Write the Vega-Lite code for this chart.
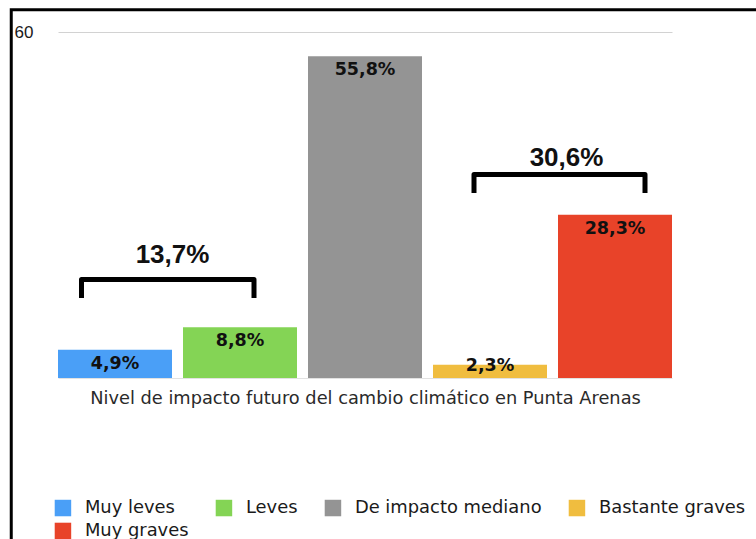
{
  "$schema": "https://vega.github.io/schema/vega-lite/v6.json",
  "autosize": {"type": "none"},
  "width": 614,
  "height": 346,
  "padding": {"left": 58, "top": 32, "right": 84, "bottom": 161},
  "background": "white",
  "config": {
    "view": {"stroke": null},
    "font": "DejaVu Sans",
    "legend": {
      "orient": "none",
      "direction": "horizontal",
      "legendX": -4,
      "legendY": 467,
      "columns": 4,
      "columnPadding": 26,
      "rowPadding": 4,
      "labelFontSize": 17.9,
      "labelFont": "DejaVu Sans",
      "labelColor": "#1a1a1a",
      "labelOffset": 13,
      "labelLimit": 400,
      "symbolSize": 272,
      "symbolType": "square",
      "symbolStrokeWidth": 0,
      "symbolOpacity": 1,
      "title": null
    }
  },
  "datasets": {
    "bars": [
      {"cat": "Muy leves", "value": 4.9, "label": "4,9%"},
      {"cat": "Leves", "value": 8.8, "label": "8,8%"},
      {"cat": "De impacto mediano", "value": 55.8, "label": "55,8%"},
      {"cat": "Bastante graves", "value": 2.3, "label": "2,3%"},
      {"cat": "Muy graves", "value": 28.3, "label": "28,3%"}
    ],
    "brackets": [
      {"group": "a", "ord": 1, "bx": 0.188, "by": 13.87},
      {"group": "a", "ord": 2, "bx": 0.188, "by": 17.08},
      {"group": "a", "ord": 3, "bx": 1.568, "by": 17.08},
      {"group": "a", "ord": 4, "bx": 1.568, "by": 13.87},
      {"group": "b", "ord": 1, "bx": 3.328, "by": 32.08},
      {"group": "b", "ord": 2, "bx": 3.328, "by": 35.29},
      {"group": "b", "ord": 3, "bx": 4.696, "by": 35.29},
      {"group": "b", "ord": 4, "bx": 4.696, "by": 32.08}
    ],
    "bracketLabels": [
      {"bx": 0.916, "by": 21.4, "label": "13,7%"},
      {"bx": 4.068, "by": 38.2, "label": "30,6%"}
    ],
    "frame": [
      {"fx": -0.374, "fx2": 12, "fy": 63.86, "fy2": -40}
    ]
  },
  "layer": [
    {
      "data": {"name": "bars"},
      "encoding": {
        "x": {
          "field": "cat",
          "type": "nominal",
          "sort": ["Muy leves", "Leves", "De impacto mediano", "Bastante graves", "Muy graves"],
          "scale": {"paddingInner": 0.088, "paddingOuter": 0},
          "axis": {
            "title": "Nivel de impacto futuro del cambio climático en Punta Arenas",
            "titleFont": "DejaVu Sans",
            "titleFontSize": 17.8,
            "titleFontWeight": "normal",
            "titleColor": "#2a2a2a",
            "titlePadding": 11,
            "labels": false,
            "ticks": false,
            "domain": true,
            "domainColor": "#e2e2e2",
            "domainWidth": 1
          }
        },
        "y": {
          "field": "value",
          "type": "quantitative",
          "scale": {"domain": [0, 60], "nice": false, "zero": true},
          "axis": {
            "title": null,
            "values": [60],
            "ticks": false,
            "domain": false,
            "grid": true,
            "gridColor": "#d2d2d2",
            "gridWidth": 1,
            "labelFont": "Liberation Sans",
            "labelFontSize": 17,
            "labelColor": "#1a1a1a",
            "labelPadding": 25
          }
        }
      },
      "layer": [
        {
          "mark": {"type": "bar"},
          "encoding": {
            "color": {
              "field": "cat",
              "type": "nominal",
              "sort": ["Muy leves", "Leves", "De impacto mediano", "Bastante graves", "Muy graves"],
              "scale": {
                "domain": ["Muy leves", "Leves", "De impacto mediano", "Bastante graves", "Muy graves"],
                "range": ["#4a9ff7", "#84d455", "#949494", "#f0bd3f", "#e84329"]
              }
            }
          }
        },
        {
          "transform": [{"filter": "datum.value >= 4"}],
          "mark": {"type": "text", "font": "DejaVu Sans", "fontWeight": "bold", "fontSize": 17.5, "baseline": "middle", "dy": 14, "color": "#111"},
          "encoding": {"text": {"field": "label"}}
        },
        {
          "transform": [{"filter": "datum.value < 4"}],
          "mark": {"type": "text", "font": "DejaVu Sans", "fontWeight": "bold", "fontSize": 17.5, "baseline": "middle", "dy": 1, "color": "#111"},
          "encoding": {"text": {"field": "label"}}
        }
      ]
    },
    {
      "layer": [
        {
          "data": {"name": "frame"},
          "mark": {"type": "rect", "fill": null, "stroke": "black", "strokeWidth": 3, "clip": false},
          "encoding": {
            "x": {"field": "fx", "type": "quantitative", "scale": {"domain": [0, 4.912], "nice": false, "zero": false}, "axis": null},
            "x2": {"field": "fx2"},
            "y": {"field": "fy", "type": "quantitative", "scale": {"domain": [0, 60], "nice": false, "zero": true}, "axis": null},
            "y2": {"field": "fy2"}
          }
        },
        {
          "data": {"name": "brackets"},
          "mark": {"type": "line", "color": "black", "strokeWidth": 5, "strokeJoin": "round", "strokeCap": "butt", "clip": false},
          "encoding": {
            "x": {"field": "bx", "type": "quantitative", "scale": {"domain": [0, 4.912], "nice": false, "zero": false}, "axis": null},
            "y": {"field": "by", "type": "quantitative", "scale": {"domain": [0, 60], "nice": false, "zero": true}, "axis": null},
            "detail": {"field": "group"},
            "order": {"field": "ord"}
          }
        },
        {
          "data": {"name": "bracketLabels"},
          "mark": {"type": "text", "font": "Liberation Sans", "fontWeight": "bold", "fontSize": 26, "baseline": "middle", "color": "#111"},
          "encoding": {
            "x": {"field": "bx", "type": "quantitative", "scale": {"domain": [0, 4.912], "nice": false, "zero": false}, "axis": null},
            "y": {"field": "by", "type": "quantitative", "scale": {"domain": [0, 60], "nice": false, "zero": true}, "axis": null},
            "text": {"field": "label"}
          }
        }
      ]
    }
  ],
  "resolve": {"scale": {"x": "independent"}, "axis": {"x": "independent", "y": "independent"}}
}
